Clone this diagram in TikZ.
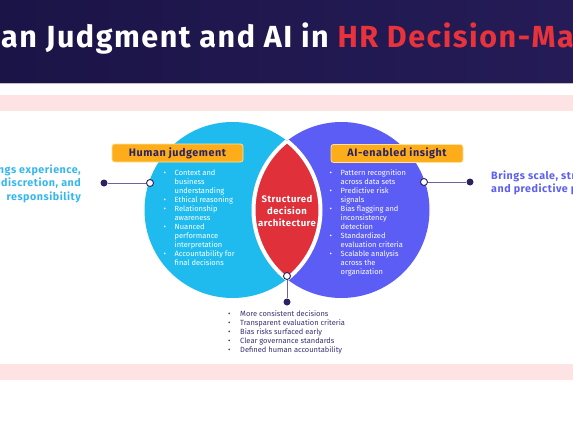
\documentclass[tikz,border=0pt]{standalone}
\usepackage{fontspec}
\setmainfont{Fira Sans}
\newfontfamily\widefont{Fira Sans}[LetterSpace=5]
\definecolor{hdrL}{HTML}{1B1447}
\definecolor{hdrR}{HTML}{251C57}
\definecolor{hred}{HTML}{E8323C}
\definecolor{pinkband}{HTML}{FDE3E4}
\definecolor{cyanc}{HTML}{1FBBEF}
\definecolor{purplec}{HTML}{5B5DF4}
\definecolor{lensred}{HTML}{E0303A}
\definecolor{orangec}{HTML}{FCAD19}
\definecolor{orangeline}{HTML}{FFE39A}
\definecolor{navy}{HTML}{2B2262}
\definecolor{connc}{HTML}{6D6596}
\definecolor{lefttxt}{HTML}{36B6EF}
\definecolor{righttxt}{HTML}{5C5FF2}
\definecolor{bottxt}{HTML}{3A3172}
\newcommand\bitem{\makebox[11pt][l]{\textbullet}}
\newcommand\bcont{\hspace*{11pt}}
\newcommand\bitemw{\makebox[12pt][l]{\textbullet}}
\begin{document}
\begin{tikzpicture}[x=1pt,y=-1pt,
  titlestyle/.style={inner sep=0, text=white, font=\widefont\fontsize{30.5}{34}\selectfont\bfseries},
  labelbox/.style={draw=orangeline, line width=0.8pt, fill=orangec, rounded corners=2.5pt,
    minimum height=18pt, inner sep=0, text=navy, font=\widefont\fontsize{10.8}{13}\selectfont\bfseries},
  bullist/.style={anchor=north west, inner sep=0, align=left, font=\fontsize{7.5}{9}\selectfont},
  opendot/.style={circle, draw=navy, fill=white, line width=0.9pt, minimum size=7pt, inner sep=0},
  filldot/.style={circle, fill=navy, minimum size=7pt, inner sep=0},
  conn/.style={draw=connc, line width=1pt},
  sidetxt/.style={inner sep=0, font=\widefont\fontsize{10.7}{13.5}\selectfont\bfseries}]
\useasboundingbox (0,0) rectangle (573,423);
\begin{scope}
\clip (0,0) rectangle (573,423);
% header
\shade[left color=hdrL, right color=hdrR] (0,0) rectangle (573,83);
\draw[line width=0.6pt, color=black!25] (0,83) -- (573,83);
\node[titlestyle] (title) at (286.5,39) {Human Judgment and AI in \textcolor{hred}{HR Decision-Making}};
% pink bands
\fill[pinkband] (0,95) rectangle (573,111);
\fill[pinkband] (0,364) rectangle (573,380);
% side texts
\node[sidetxt, text=lefttxt, align=right, anchor=east] (ltxt) at (81,183.5)
  {Brings experience,\\discretion, and\\responsibility};
\node[sidetxt, text=righttxt, align=left, anchor=west] (rtxt) at (491,183)
  {Brings scale, structure,\\and predictive power};
\end{scope}
% Venn
\coordinate (cl) at (232.5,210);
\coordinate (cr) at (341.5,210);
\fill[cyanc] (cl) circle [radius=88pt];
\fill[purplec] (cr) circle [radius=88pt];
\begin{scope}
  \clip (cl) circle [radius=88pt];
  \fill[lensred] (cr) circle [radius=88pt];
  \draw[white, line width=4pt] (cr) circle [radius=88pt];
\end{scope}
\begin{scope}
  \clip (cr) circle [radius=88pt];
  \draw[white, line width=4pt] (cl) circle [radius=88pt];
\end{scope}
\node[inner sep=0, text=white, align=center, font=\widefont\fontsize{9.5}{12}\selectfont\bfseries] (lens) at (287,211)
  {Structured\\decision\\architecture};
% labels
\node[labelbox, minimum width=131pt] (hj) at (177.5,153) {Human judgement};
\node[labelbox, minimum width=132pt] (ai) at (397,153.5) {AI-enabled insight};
% bullet lists
\node[bullist, text=white] (hlist) at (163.5,169.5)
  {\bitem Context and\\\bcont business\\\bcont understanding\\
   \bitem Ethical reasoning\\
   \bitem Relationship\\\bcont awareness\\
   \bitem Nuanced\\\bcont performance\\\bcont interpretation\\
   \bitem Accountability for\\\bcont final decisions};
\node[bullist, text=white] (alist) at (329.5,169.5)
  {\bitem Pattern recognition\\\bcont across data sets\\
   \bitem Predictive risk\\\bcont signals\\
   \bitem Bias flagging and\\\bcont inconsistency\\\bcont detection\\
   \bitem Standardized\\\bcont evaluation criteria\\
   \bitem Scalable analysis\\\bcont across the\\\bcont organization};
\node[bullist, text=bottxt] (blist) at (228,310.5)
  {\bitemw More consistent decisions\\
   \bitemw Transparent evaluation criteria\\
   \bitemw Bias risks surfaced early\\
   \bitemw Clear governance standards\\
   \bitemw Defined human accountability};
% connectors
\node[filldot] (ld) at (104,183) {};
\node[opendot] (lo) at (150,183) {};
\node[filldot] (rd) at (470,182) {};
\node[opendot] (ro) at (424,182) {};
\node[filldot] (bd) at (287,302) {};
\node[opendot] (bo) at (287,276) {};
\draw[conn] (ld) -- (lo);
\draw[conn] (ro) -- (rd);
\draw[conn] (bo) -- (bd);
\end{tikzpicture}
\end{document}
